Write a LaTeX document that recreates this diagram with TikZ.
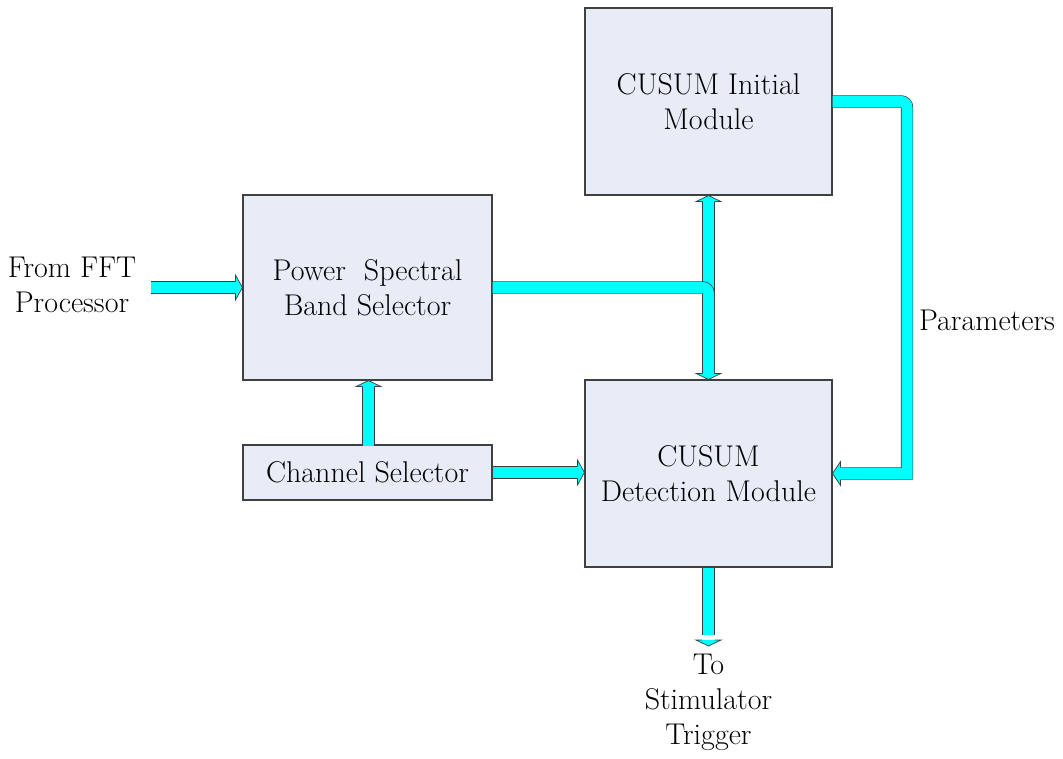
\documentclass[tikz,border=0pt]{standalone}
\usetikzlibrary{calc}
\definecolor{boxfill}{RGB}{231,236,247}
\definecolor{boxline}{RGB}{64,64,64}
\definecolor{pipe}{RGB}{0,255,255}
\definecolor{pipeline}{RGB}{60,60,60}
\tikzset{
  block/.style={draw=boxline, line width=1.1pt, fill=boxfill, inner sep=0pt,
    align=center, font=\fontsize{30}{35}\selectfont},
  freetext/.style={inner sep=0pt, align=center,
    font=\fontsize{30}{35}\selectfont},
  shaft/.style={draw=pipeline, line width=0.7pt, double=pipe, double distance=11pt},
  headline/.style={draw=pipeline, line width=0.7pt, line join=miter},
  headE/.pic={\fill[pipe] (0,0) -- (-7,-12.5) -- (-7,12.5) -- cycle;
    \draw[headline] (-7,-6.2) -- (-7,-12.5) -- (0,0) -- (-7,12.5) -- (-7,6.2);},
  headW/.pic={\fill[pipe] (0,0) -- (8,-12) -- (8,12) -- cycle;
    \draw[headline] (8,-6.2) -- (8,-12) -- (0,0) -- (8,12) -- (8,6.2);},
  headN/.pic={\fill[pipe] (0,0) -- (-12.5,6) -- (12.5,6) -- cycle;
    \draw[headline] (-6.2,6) -- (-12.5,6) -- (0,0) -- (12.5,6) -- (6.2,6);},
  headS/.pic={\fill[pipe] (0,0) -- (-12.5,-6) -- (12.5,-6) -- cycle;
    \draw[headline] (-6.2,-6) -- (-12.5,-6) -- (0,0) -- (12.5,-6) -- (6.2,-6);},
}
\begin{document}
\begin{tikzpicture}[x=1pt, y=-1pt]
  \useasboundingbox (0,0) rectangle (1063,758);

  % processing blocks
  \node[block, minimum width=249pt, minimum height=185pt] (psbs) at (367.5,287.5)
    {Power\ \ Spectral\\Band Selector};
  \node[block, minimum width=247pt, minimum height=187pt] (init) at (708.5,101.5)
    {CUSUM Initial\\Module};
  \node[block, minimum width=247pt, minimum height=187pt] (det) at (708.5,473.5)
    {CUSUM\\Detection Module};
  \node[block, minimum width=249pt, minimum height=55pt] (chan) at (367.5,472.5)
    {Channel Selector};

  % free labels
  \node[freetext] (fft) at (72,285) {From FFT\\Processor};
  \node[freetext] (params) at (987,320) {Parameters};
  \node[freetext] (trig) at (708.5,702) {To\\Stimulator\\Trigger};

  \coordinate (fftin) at (151,287.5);
  \coordinate (bend) at (907,0);
  \coordinate (trigout) at (708.5,640);

  % input from the FFT processor
  \draw[shaft] (fftin) -- ($(psbs.west)+(-6,0)$);
  \pic at (psbs.west) {headE};

  % channel selector to band selector
  \draw[shaft] ($(chan.north)+(1,2)$) -- ($(psbs.south)+(1,5)$);
  \pic at ($(psbs.south)+(1,0)$) {headN};

  % channel selector to detection module
  \draw[shaft] (chan.east) -- ($(det.west |- chan.east)+(-6,0)$);
  \pic at (det.west |- chan.east) {headE};

  % two-way link between initial and detection modules
  \draw[shaft] ($(init.south)+(0,5)$) -- ($(det.north)+(0,-5)$);

  % band selector output turning down into the detection module
  \draw[shaft, rounded corners=6pt] (psbs.east) -| ($(det.north)+(0,-5)$);
  \pic at (init.south) {headN};
  \pic at (det.north) {headS};

  % parameters fed back from the initial module
  \draw[shaft] (init.east) [rounded corners=6pt] -- (bend |- init.east)
    [sharp corners] -- (bend |- det.east) -- ($(det.east)+(7,0)$);
  \pic at (det.east) {headW};

  % output to the stimulator trigger
  \draw[shaft] (det.south) -- ($(trigout)+(0,-5)$);
  \pic at ($(trigout)+(0,6)$) {headS};
\end{tikzpicture}
\end{document}
